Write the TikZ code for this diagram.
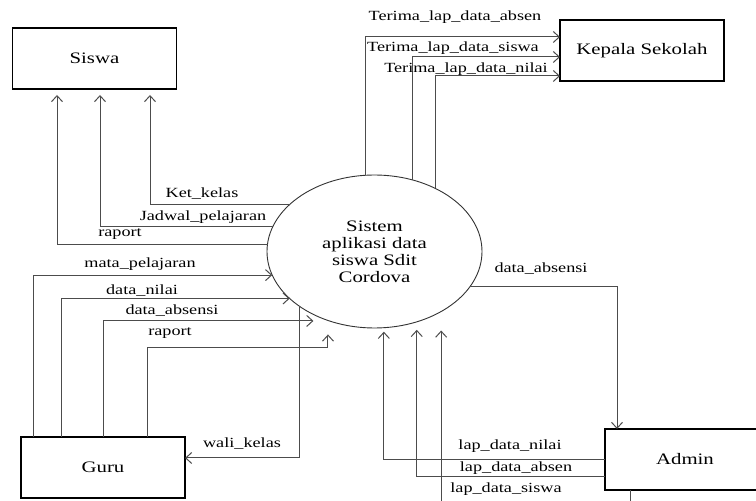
\documentclass[tikz,border=0pt]{standalone}
\usepackage{fontspec}
\setmainfont{Liberation Serif}[FakeStretch=1.3]
\usetikzlibrary{shapes.geometric, arrows.meta}

\begin{document}
\begin{tikzpicture}[x=1pt, y=1pt,
    >={Straight Barb[length=6pt,width=11pt]},
    entity/.style={draw, line width=1.1pt, minimum width=164pt, minimum height=61pt,
      inner sep=0pt, outer sep=0pt, font=\fontsize{16}{18}\selectfont},
    flow/.style={draw=black!70, line width=1pt, ->},
    lbl/.style={anchor=base, inner sep=0pt, font=\fontsize{14}{16}\selectfont}]
  \useasboundingbox (0,0) rectangle (756,501);
  \clip (0,0) rectangle (756,501);

  \node[ellipse, draw=black!80, line width=0.9pt, minimum width=215pt, minimum height=153pt,
    inner sep=0pt, outer sep=0pt, align=center, font=\fontsize{16}{17}\selectfont]
    (sys) at (374.5,249.5) {Sistem\\aplikasi data\\siswa Sdit\\Cordova};
  \node[entity] (siswa) at (94.5,442.5) {Siswa};
  \node[entity] (kepsek) at (642,450.5) {Kepala Sekolah};
  \node[entity] (guru) at (103,33.5) {Guru};
  \node[entity, minimum width=160pt] (admin) at (685,41.5) {Admin};

  % ke siswa
  \draw[flow, shorten >=6pt] (sys.151.4) -| ([xshift=55.5pt]siswa.south);
  \draw[flow, shorten >=6pt] (sys.166.5) -| ([xshift=5.5pt]siswa.south);
  \draw[flow, shorten >=6pt] (sys.176) -| ([xshift=-37.5pt]siswa.south);
  \node[lbl] (l_ket) at (202,303) {Ket\_kelas};
  \node[lbl] (l_jadwal) at (203,280) {Jadwal\_pelajaran};
  \node[lbl] (l_rapsiswa) at (120,264) {raport};

  % ke kepala sekolah
  \draw[flow] (sys.97.1) |- ([yshift=13.5pt]kepsek.west);
  \draw[flow] (sys.62.4) |- ([yshift=-6.5pt]kepsek.west);
  \draw[flow] (sys.46.25) |- ([yshift=-25.5pt]kepsek.west);
  \node[lbl] (l_tabsen) at (455,480) {Terima\_lap\_data\_absen};
  \node[lbl] (l_tsiswa) at (453,449) {Terima\_lap\_data\_siswa};
  \node[lbl] (l_tnilai) at (466,428) {Terima\_lap\_data\_nilai};

  % dari guru
  \draw[flow] ([xshift=-70pt]guru.north) |- (sys.193.5);
  \draw[flow] ([xshift=-42pt]guru.north) |- (sys.209.4);
  \draw[flow, shorten >=16pt] (guru.north) |- (sys.237.1);
  \draw[flow, shorten >=14pt] ([xshift=44pt]guru.north) -- ++(0,89) -| (sys.236.6);
  \draw[flow] (sys.216.5) |- ([yshift=9.5pt]guru.east);
  \node[lbl] (l_mapel) at (140,233) {mata\_pelajaran};
  \node[lbl] (l_nilai) at (142,206) {data\_nilai};
  \node[lbl] (l_absguru) at (172,186) {data\_absensi};
  \node[lbl] (l_rapguru) at (170,165) {raport};
  \node[lbl] (l_wali) at (242,53) {wali\_kelas};

  % admin
  \draw[flow] (sys.340.9) -| ([xshift=-68pt]admin.north);
  \draw[flow, shorten >=4pt] (admin.west) -| (sys.277.1);
  \draw[flow, shorten >=8pt] ([yshift=-17.5pt]admin.west) -| (sys.301.9);
  \draw[flow, shorten >=19pt] ([xshift=-55pt]admin.south) -- ++(0,-25) -| (sys.318.6);
  \node[lbl] (l_absadmin) at (541,228) {data\_absensi};
  \node[lbl] (l_lapnilai) at (510,51) {lap\_data\_nilai};
  \node[lbl] (l_lapabsen) at (516,29) {lap\_data\_absen};
  \node[lbl] (l_lapsiswa) at (506,8) {lap\_data\_siswa};
\end{tikzpicture}
\end{document}
